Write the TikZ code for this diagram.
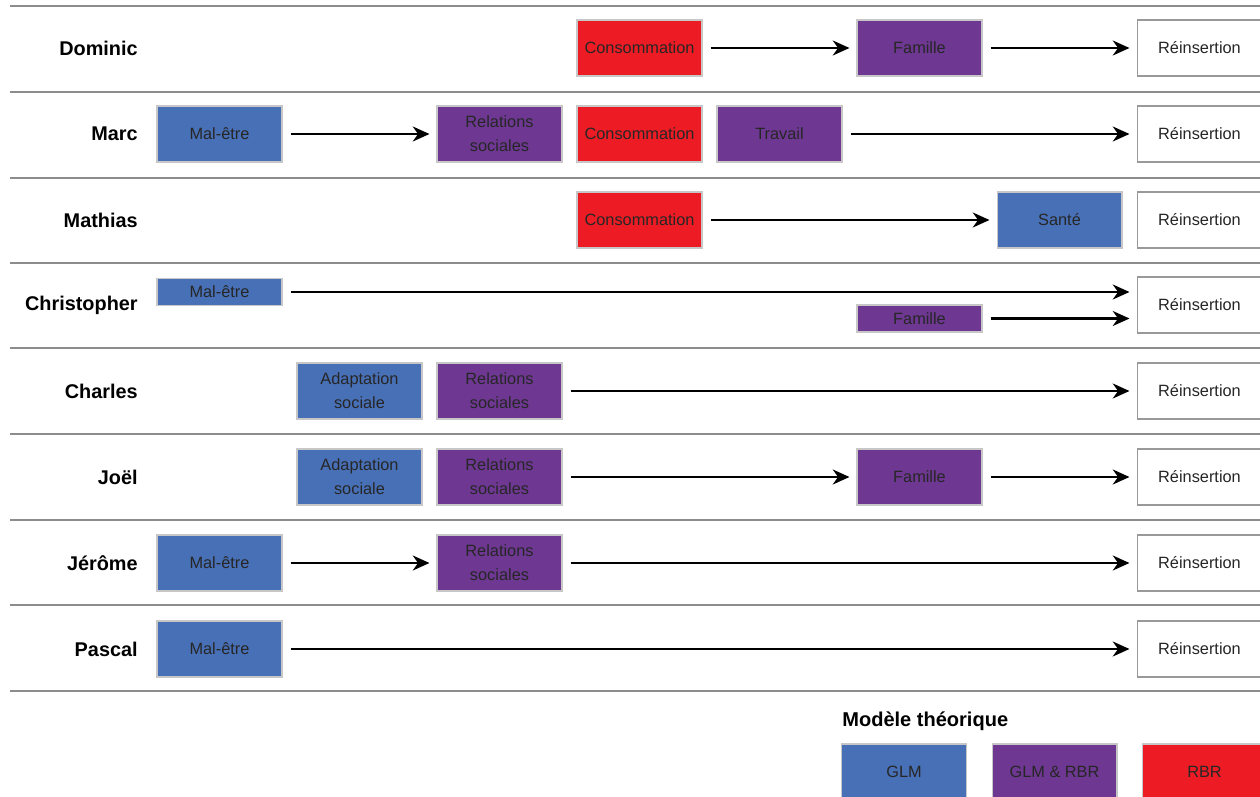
\documentclass[tikz,border=0pt]{standalone}
\usepackage{fontspec}
\setmainfont{Liberation Sans}
\usetikzlibrary{arrows.meta}
\definecolor{glmblue}{RGB}{72,112,182}
\definecolor{mixpurple}{RGB}{110,56,146}
\definecolor{rbrred}{RGB}{237,28,36}
\definecolor{rulegray}{RGB}{140,140,140}
\tikzset{
  box/.style={draw=black!22, line width=0.6pt, minimum width=2.5cm, minimum height=1.12cm,
    inner sep=0pt, align=center, font=\fontsize{9.3}{13.5}\selectfont, text=black!85},
  glm/.style={box, fill=glmblue},
  mix/.style={box, fill=mixpurple},
  rbr/.style={box, fill=rbrred},
  rein/.style={box, draw=black!40, fill=white},
  flatbox/.style={minimum height=0.54cm},
  who/.style={anchor=east, inner sep=0pt, font=\fontsize{11.3}{13}\selectfont\bfseries},
  flow/.style={-{Stealth[length=9.5pt,width=8.5pt,inset=3pt]}, line width=1.4pt,
    shorten <=0.16cm, shorten >=0.14cm},
  sep/.style={rulegray, line width=1.1pt}
}

\begin{document}
\begin{tikzpicture}[x=0.02cm, y=-0.02cm]
  \useasboundingbox (0,0) rectangle (1260,797);

  % separators between the rows
  \foreach \y in {6,92,178,263,348,434,520,605,691}
    \draw[sep] (10,\y) -- (1260,\y);

  % Dominic
  \node[who] (dom) at (138,48) {Dominic};
  \node[rbr] (dom-cons) at (639.5,48) {Consommation};
  \node[mix] (dom-fam) at (919.5,48) {Famille};
  \node[rein] (dom-rein) at (1199.5,48) {Réinsertion};
  \draw[flow] (dom-cons.east) -- (dom-fam.west);
  \draw[flow] (dom-fam.east) -- (dom-rein.west);

  % Marc
  \node[who] (marc) at (138,134) {Marc};
  \node[glm] (marc-mal) at (219.5,134) {Mal-être};
  \node[mix] (marc-rel) at (499.5,134) {Relations\\sociales};
  \node[rbr] (marc-cons) at (639.5,134) {Consommation};
  \node[mix] (marc-trav) at (779.5,134) {Travail};
  \node[rein] (marc-rein) at (1199.5,134) {Réinsertion};
  \draw[flow] (marc-mal.east) -- (marc-rel.west);
  \draw[flow] (marc-trav.east) -- (marc-rein.west);

  % Mathias
  \node[who] (math) at (138,220) {Mathias};
  \node[rbr] (math-cons) at (639.5,220) {Consommation};
  \node[glm] (math-sante) at (1059.5,220) {Santé};
  \node[rein] (math-rein) at (1199.5,220) {Réinsertion};
  \draw[flow] (math-cons.east) -- (math-sante.west);

  % Christopher
  \node[who] (chris) at (138,305) {Christopher};
  \node[glm, flatbox] (chris-mal) at (219.5,292) {Mal-être};
  \node[mix, flatbox] (chris-fam) at (919.5,318.5) {Famille};
  \node[rein] (chris-rein) at (1199.5,305) {Réinsertion};
  \draw[flow] (chris-mal.east) -- (chris-mal.east -| chris-rein.west);
  \draw[flow] (chris-fam.east) -- (chris-fam.east -| chris-rein.west);

  % Charles
  \node[who] (charles) at (138,391) {Charles};
  \node[glm] (charles-adap) at (359.5,391) {Adaptation\\sociale};
  \node[mix] (charles-rel) at (499.5,391) {Relations\\sociales};
  \node[rein] (charles-rein) at (1199.5,391) {Réinsertion};
  \draw[flow] (charles-rel.east) -- (charles-rein.west);

  % Joël
  \node[who] (joel) at (138,477) {Joël};
  \node[glm] (joel-adap) at (359.5,477) {Adaptation\\sociale};
  \node[mix] (joel-rel) at (499.5,477) {Relations\\sociales};
  \node[mix] (joel-fam) at (919.5,477) {Famille};
  \node[rein] (joel-rein) at (1199.5,477) {Réinsertion};
  \draw[flow] (joel-rel.east) -- (joel-fam.west);
  \draw[flow] (joel-fam.east) -- (joel-rein.west);

  % Jérôme
  \node[who] (jer) at (138,563) {Jérôme};
  \node[glm] (jer-mal) at (219.5,563) {Mal-être};
  \node[mix] (jer-rel) at (499.5,563) {Relations\\sociales};
  \node[rein] (jer-rein) at (1199.5,563) {Réinsertion};
  \draw[flow] (jer-mal.east) -- (jer-rel.west);
  \draw[flow] (jer-rel.east) -- (jer-rein.west);

  % Pascal
  \node[who] (pascal) at (138,649) {Pascal};
  \node[glm] (pascal-mal) at (219.5,649) {Mal-être};
  \node[rein] (pascal-rein) at (1199.5,649) {Réinsertion};
  \draw[flow] (pascal-mal.east) -- (pascal-rein.west);

  % legend
  \node[who, anchor=west, font=\fontsize{11.4}{13}\selectfont\bfseries] (legend) at (842,721) {Modèle théorique};
  \node[glm] (leg-glm) at (904,772) {GLM};
  \node[mix] (leg-mix) at (1054.5,772) {GLM \& RBR};
  \node[rbr] (leg-rbr) at (1204.5,772) {RBR};
\end{tikzpicture}
\end{document}
